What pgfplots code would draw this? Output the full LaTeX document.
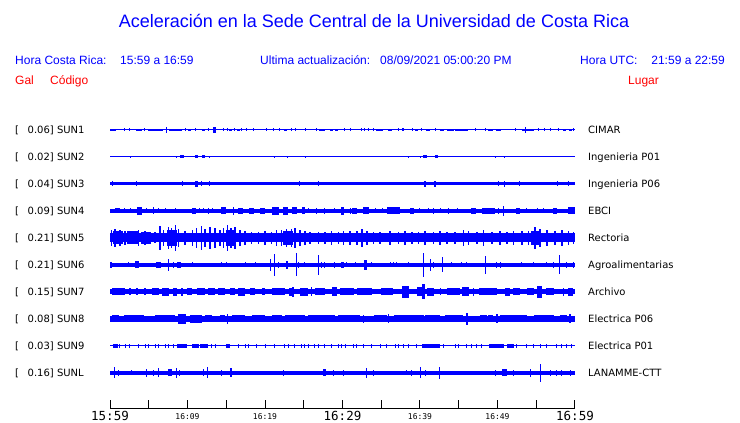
\documentclass[border=0pt]{standalone}
\usepackage{pgfplots}
\pgfplotsset{compat=1.18}
\usepackage{fontspec}
\setmainfont{DejaVu Sans}
\newfontfamily\hel{Liberation Sans}
\newfontfamily\mono{DejaVu Sans Mono}

% one burst = filled box, half height h and width w (in pt), centred on the trace
\pgfdeclareplotmark{burst}{%
  \pgfpathrectangle{\pgfpoint{-0.5pt*\burstW}{-1pt*\burstH}}{\pgfpoint{1pt*\burstW}{2pt*\burstH}}%
  \pgfusepathqfill}

\pgfplotsset{
  burst/.style={only marks, scatter, mark=burst, color=blue,
    point meta=\thisrow{h},
    visualization depends on={\thisrow{h} \as \burstH},
    visualization depends on={\thisrow{w} \as \burstW},
    scatter/@pre marker code/.code={},
    scatter/@post marker code/.code={}},
  base/.style={blue, line width=#1pt, no marks},
}

\begin{document}
\begin{tikzpicture}
\useasboundingbox (0pt,0pt) rectangle (740pt,423pt);

% header
\node[blue, font=\hel\fontsize{18}{21}\selectfont] at (374pt,402pt)
  {Aceleración en la Sede Central de la Universidad de Costa Rica};
\begin{scope}[every node/.style={inner sep=0pt, anchor=base west, font=\hel\fontsize{12}{14}\selectfont}]
  \node[blue] at (15pt,358pt) {Hora Costa Rica:};
  \node[blue] at (120pt,358pt) {15:59 a 16:59};
  \node[blue] at (260pt,358pt) {Ultima actualización:};
  \node[blue] at (380pt,358pt) {08/09/2021 05:00:20 PM};
  \node[blue] at (580pt,358pt) {Hora UTC:};
  \node[blue, anchor=base east] at (725pt,358pt) {21:59 a 22:59};
  \node[red] at (15pt,338pt) {Gal};
  \node[red] at (50pt,338pt) {Código};
  \node[red] at (628pt,338pt) {Lugar};
\end{scope}

% trace labels
\begin{scope}[every node/.style={inner sep=0pt, anchor=base west, font=\fontsize{10}{12}\selectfont}]
\foreach \c/\g/\code/\site in {293/0.06/SUN1/CIMAR, 266/0.02/SUN2/Ingenieria P01,
    239/0.04/SUN3/Ingenieria P06, 212/0.09/SUN4/EBCI, 185/0.21/SUN5/Rectoria,
    158/0.21/SUN6/Agroalimentarias, 131/0.15/SUN7/Archivo, 104/0.08/SUN8/Electrica P06,
    77/0.03/SUN9/Electrica P01, 50/0.16/SUNL/LANAMME-CTT}{
  \node at (15pt,\c pt-3.6pt) {[};
  \node at (27.5pt,\c pt-3.6pt) {\g] \code};
  \node at (588pt,\c pt-3.6pt) {\site};
}
\end{scope}

\begin{axis}[
  at={(110pt,14pt)}, anchor=south west,
  width=465pt, height=292.5pt, scale only axis,
  xmin=0, xmax=60, ymin=-0.3333, ymax=10.5,
  axis x line*=bottom, axis y line=none,
  axis line style={black, line width=1pt},
  xtick={0,5,...,60},
  xticklabels={{\mono\fontsize{12.5}{14}\selectfont 15:59},{},
    {\mono\fontsize{8}{9}\selectfont 16:09},{},
    {\mono\fontsize{8}{9}\selectfont 16:19},{},
    {\mono\fontsize{12.5}{14}\selectfont 16:29},{},
    {\mono\fontsize{8}{9}\selectfont 16:39},{},
    {\mono\fontsize{8}{9}\selectfont 16:49},{},
    {\mono\fontsize{12.5}{14}\selectfont 16:59}},
  xticklabel style={anchor=center, inner sep=0pt, yshift=-7.2pt},
  tick align=inside, major tick length=9pt,
  tick style={black, line width=1pt},
  ytick=\empty,
  point meta min=0, point meta max=20,
  clip=false,
]
% SUN1 - CIMAR
\addplot[base=1] coordinates {(0,10) (60,10)};
\addplot[burst] table[x=t, y expr=10] {
t h w
0.4 1.3 6
1.9 1.5 1
2.5 1.5 1
3.7 1.3 6
4.5 1.5 1
5.9 1.3 15
7.3 2.7 1
8.4 1.3 13
9.7 1.5 1
10.3 1.3 3
11.0 1.5 1
12.0 1.3 3
12.7 1.5 1
13.5 3.3 3
14.6 1.5 1
15.1 1.5 1
15.5 1.3 3
16.1 1.5 1
16.6 1.3 3
17.0 1.5 1
17.6 1.5 1
18.5 1.5 1
20.2 1.5 1
21.1 1.5 1
21.9 1.5 1
22.6 1.3 3
23.4 1.5 1
23.9 1.5 1
25.2 1.5 1
26.7 1.5 1
27.4 1.3 6
28.6 1.3 3
29.2 1.3 3
30.3 1.5 1
31.0 1.5 1
32.5 1.5 1
32.9 1.5 1
33.4 1.5 1
34.0 1.5 1
34.8 1.3 7
36.1 1.3 4
37.2 1.5 1
37.7 1.5 1
37.9 1.5 1
39.0 1.5 1
39.6 1.3 3
40.2 1.5 1
41.0 1.3 4
42.0 1.5 1
42.8 1.3 4
43.9 1.3 7
45.4 1.3 13
47.1 1.5 1
48.4 1.5 1
49.1 1.3 5
50.1 1.3 5
52.3 1.5 1
54.0 1.3 12
53.6 2.7 1
55.3 1.5 1
56.1 1.5 1
56.8 1.5 1
57.9 1.5 1
58.7 1.3 3
59.4 1.3 3
59.8 1.5 1
};
% SUN2 - Ingenieria P01
\addplot[base=1] coordinates {(0,9) (60,9)};
\addplot[burst] table[x=t, y expr=9] {
t h w
2.6 1.3 1
8.6 1.3 1
9.3 1.5 4
11.1 1.5 3
12.1 1.5 3
12.8 1.3 1
21.2 1.0 1
22.9 1.3 1
25.2 1.3 1
38.5 1.3 1
40.1 1.0 1
40.7 1.5 4
42.1 1.5 3
49.8 1.3 1
50.9 1.3 1
};
% SUN3 - Ingenieria P06
\addplot[base=3] coordinates {(0,8) (60,8)};
\addplot[burst] table[x=t, y expr=8] {
t h w
0.3 2.5 1
3.4 2.5 1
9.3 2.5 1
11.1 3 3
11.8 2.5 1
12.9 2.5 1
24.5 2.5 1
26.9 2.5 1
40.7 3 2
42.0 3 2
50.1 2.5 1
50.9 3 1
52.9 2.5 1
57.7 2.5 1
59.2 2.5 1
};
% SUN4 - EBCI
\addplot[base=3.3] coordinates {(0,7) (60,7)};
\addplot[burst] table[x=t, y expr=7] {
t h w
1.0 2.5 5
1.9 2.5 1
2.6 2.5 1
3.8 4 5
4.7 2.5 1
5.6 3.5 1
6.2 2.5 1
7.1 2.5 1
8.4 2.5 1
10.8 3 4
11.5 2.5 1
12.0 2.5 1
12.7 3 1
13.2 2.5 1
14.7 3.5 5
15.9 4 1
16.9 3 5
18.2 3 5
19.7 3 5
21.3 4 7
22.7 4 5
23.8 3.5 5
25.0 3.5 3
25.6 2.5 1
26.7 3 1
27.7 3 1
29.0 2.5 1
30.0 4 3
31.0 3 1
31.6 3 5
33.0 3.5 6
34.2 2.5 1
35.1 2.5 1
36.6 3.5 13
39.0 3 4
40.0 2.5 1
41.1 2.5 1
41.7 3 1
42.6 2.5 1
43.7 3 1
44.8 2.5 1
46.9 3 5
48.8 3 13
50.1 3 1
50.8 5 1
52.7 3 4
53.8 2.5 1
55.1 2.5 1
55.9 2.5 1
57.4 3 4
59.6 3.5 7
};
% SUN5 - Rectoria
\addplot[base=9] coordinates {(0,6) (60,6)};
\addplot[burst] table[x=t, y expr=6] {
t h w
1.0 6.5 10
3.0 6.5 12
4.5 6 8
8.0 8 10
15.5 8 8
23.0 7 10
55.0 7 10
0.2 8 1.5
0.65 9 1.5
1.29 8 1.5
1.94 7 1.5
2.8 6 1.5
3.66 8 1.5
4.52 7 1.5
5.16 6 1.5
5.81 5.5 1.5
6.45 12 1.5
6.88 8 1.5
7.53 11 1.5
7.96 10 1.5
8.47 13 1.5
8.82 9 1.5
9.68 7 1.5
10.62 8 1.5
11.18 10 1.5
11.83 12 1.5
12.26 9 1.5
12.9 11 1.5
13.55 10 1.5
14.19 8 1.5
14.62 10 1.5
15.18 13 1.5
15.61 10 1.5
16.13 11 1.5
16.77 8 1.5
17.42 7 1.5
18.28 6 1.5
19.14 6 1.5
20.0 7 1.5
20.86 6 1.5
21.51 8 1.5
22.15 8 1.5
22.8 9 1.5
23.44 9 1.5
23.87 10 1.5
24.52 8 1.5
25.16 7 1.5
25.81 6 1.5
26.88 6 1.5
27.74 6 1.5
28.6 7 1.5
29.46 6 1.5
30.13 7 1.5
30.99 7 1.5
31.85 7 1.5
32.5 9 1.5
33.14 7 1.5
34.0 6 1.5
34.86 6 1.5
36.15 7 1.5
37.23 6 1.5
38.09 7 1.5
38.95 6 1.5
39.81 6 1.5
40.67 7 1.5
41.74 6 1.5
42.6 7 1.5
43.46 6 1.5
44.54 6 1.5
45.61 8 1.5
46.26 7 1.5
47.33 6 1.5
48.19 8 1.5
49.27 6 1.5
50.35 7 1.5
51.21 6 1.5
52.07 7 1.5
53.14 7 1.5
54.0 7 1.5
54.86 11 1.5
55.51 9 1.5
56.37 8 1.5
57.44 7 1.5
58.3 8 1.5
59.16 7 1.5
59.81 6 1.5
};
% SUN6 - Agroalimentarias
\addplot[base=3.5] coordinates {(0,5) (60,5)};
\addplot[burst] table[x=t, y expr=5] {
t h w
0.1 3 2
2.37 2.5 1
3.44 3.5 4
6.2 3 5
7.53 6 1
8.17 3 1
8.9 3 4
10.62 2.5 1
12.9 2 1
14.41 2.5 1
15.05 2.5 1
17.42 2.5 1
18.71 2.5 1
20.73 6 1
21.2 11 1.2
21.72 3 1
22.9 4 2
24.09 11.5 1.2
24.3 3 1
25.16 2.5 1
26.88 10 1.2
27.31 3 1
27.74 3 1
29.03 3 1
29.98 3 3
30.56 2.5 1
31.64 2.5 1
32.93 5 3
33.79 2.5 1
36.15 2.5 1
36.58 2.5 1
37.01 2.5 1
38.52 2.5 1
40.45 12 1.2
41.31 6 1
41.74 3 1
42.95 7.5 1
44.11 2.5 1
45.4 2.5 1
46.04 2.5 1
48.41 9 1
49.92 3 1
50.35 3 1
53.14 2.5 1
54.65 2.5 1
56.37 2.5 1
57.23 3 1
58.0 9.5 1.2
58.95 3 1
59.81 3 1
};
% SUN7 - Archivo
\addplot[base=5] coordinates {(0,4) (60,4)};
\addplot[burst] table[x=t, y expr=4] {
t h w
1.08 3.5 13
2.58 3.5 2
3.44 3.5 2
4.52 3.5 2
5.81 3.5 7
7.1 4 7
8.39 4 4
9.25 4 2
10.2 3.5 5
11.74 3.5 8
13.1 3.5 7
14.41 3.5 7
15.8 3.5 5
16.99 4 7
18.37 3.5 5
19.78 3.5 3
21.72 3.5 13
23.44 4 5
23.57 5 2
25.03 4 8
26.02 4.5 1
27.1 3.5 10
28.95 4.5 5
29.98 3.5 5
30.65 3.5 12
32.8 3.5 15
35.8 3.5 12
38.09 6 7
40.15 4.5 8
40.45 7.5 3
41.31 4 7
42.6 3.5 1
44.32 3.5 13
45.83 4.5 7
46.9 4 1
48.71 3.5 18
51.29 4 5
52.5 3.5 7
54.22 3.5 7
55.42 6 5
56.71 3.5 8
58.52 4 1
59.46 4 5
};
% SUN8 - Electrica P06
\addplot[base=6] coordinates {(0,3) (60,3)};
\addplot[burst] table[x=t, y expr=3] {
t h w
0.65 3.5 7
3.14 3.5 20
7.1 3.5 20
9.33 5 8
11.05 4 12
12.69 3.5 7
14.5 3.5 5
15.18 5 1
16.56 3.5 13
19.14 3.5 13
21.51 3.5 10
23.87 3.5 20
27.31 3.5 27
29.89 3.5 7
30.99 3.5 20
32.71 4 1
34.86 3.5 13
35.94 4.5 1
38.52 3.5 30
41.66 3.5 15
44.41 3.5 18
46.04 6 2
48.19 3.5 7
49.14 3.5 5
49.92 4.5 2
52.07 3.5 27
55.94 3.5 20
58.52 3.5 7
59.38 4.5 2
};
% SUN9 - Electrica P01
\addplot[base=1] coordinates {(0,2) (60,2)};
\addplot[burst] table[x=t, y expr=2] {
t h w
0.73 1.7 5
1.29 1.7 1
1.94 1.7 1
2.58 1.7 1
3.66 1.7 1
4.52 1.7 1
4.95 1.7 1
5.81 1.7 1
6.24 1.7 1
7.1 1.7 1
7.53 1.7 1
8.17 1.7 1
9.25 1.7 10
10.97 1.7 7
12.17 1.7 8
13.12 1.7 1
13.55 1.7 1
15.27 1.7 4
16.56 1.7 1
17.42 1.7 1
17.85 1.7 1
18.92 1.7 1
20.0 1.7 1
21.29 1.7 1
22.58 1.7 1
23.01 1.7 1
23.87 1.7 1
24.73 1.7 1
25.16 1.7 1
25.59 1.7 1
26.45 1.7 1
26.88 1.7 1
27.74 1.7 1
28.6 1.7 1
29.46 1.7 1
29.89 1.7 1
30.35 1.7 1
31.42 1.7 1
31.85 1.7 1
32.71 1.7 1
33.79 1.7 1
34.86 1.7 1
35.72 1.7 1
36.8 1.7 1
37.23 1.7 1
37.87 1.7 1
38.52 1.7 1
39.59 1.7 1
41.4 1.7 18
43.03 1.7 1
44.54 1.7 1
44.97 1.7 1
46.04 1.7 1
46.69 1.7 1
47.33 1.7 1
47.98 1.7 1
49.83 1.7 15
51.64 1.7 7
52.5 1.7 1
53.79 1.7 1
54.65 1.7 1
55.51 1.7 1
56.37 1.7 1
57.66 1.7 1
58.3 1.7 1
58.95 1.7 1
59.59 1.7 1
};
% SUNL - LANAMME-CTT
\addplot[base=4] coordinates {(0,1) (60,1)};
\addplot[burst] table[x=t, y expr=1] {
t h w
0.56 5.5 1.2
1.08 3 1
2.8 2.5 1
4.73 4 1
5.59 3 1
6.24 4.5 1.2
7.74 3.5 4
8.6 5 1.2
9.03 3 1
12.04 3.5 1
12.6 5.5 1.2
14.41 3 1
15.61 4.5 2
22.37 3 1
27.74 3.5 3
28.82 3 1
30.11 3 1
33.05 5 1.2
34.0 3 1
38.3 2.5 1
38.95 3 1
40.11 5.5 1.2
40.67 3 1
42.52 6 1.2
49.7 3 1
50.86 3.5 5
52.07 3 1
54.22 4 1
55.59 9 1.2
56.8 3 1
57.66 3 1
58.3 3 1
59.38 3 1
};
\end{axis}
\end{tikzpicture}
\end{document}
